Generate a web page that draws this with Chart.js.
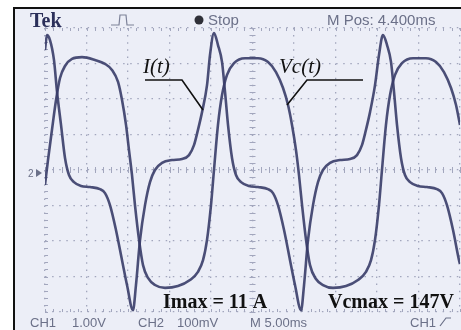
<!DOCTYPE html>
<html>
<head>
<meta charset="utf-8">
<script src="https://cdn.jsdelivr.net/npm/chart.js@4"></script>
<style>
  html, body { margin: 0; padding: 0; background: #fff; }
  canvas { display: block; }
</style>
</head>
<body>
<canvas id="scope" width="461" height="330"></canvas>
<script>
// time in ms (5 ms/div), amplitude in screen divisions (8 div high)
const currentTime = [0.0, 0.24, 0.60, 1.08, 1.45, 1.93, 2.41, 2.89, 3.49, 4.34, 5.42, 6.63, 7.23, 7.83, 8.55, 9.28, 9.88, 10.60,
    10.96, 11.45, 12.05, 12.65, 13.25, 14.10, 15.30, 16.51, 17.35, 17.95, 18.43, 18.92, 19.52, 19.88, 20.36,
    20.84, 21.33, 21.69, 22.05, 22.53, 23.01, 23.62, 24.58, 25.66, 26.87, 27.47, 28.07, 28.80, 29.52, 30.12, 30.85,
    31.21, 31.69, 32.29, 32.89, 33.49, 34.34, 35.54, 36.75, 37.59, 38.19, 38.67, 39.16, 39.76, 40.24, 40.72,
    41.21, 41.69, 42.05, 42.41, 42.89, 43.37, 43.98, 44.94, 46.02, 47.23, 47.83, 48.43, 49.16, 49.88, 50.0]
const currentDiv = [3.38, 3.80, 3.66, 3.10, 2.20, 1.27, 0.34, -0.14, -0.34, -0.45, -0.48, -0.54, -0.65, -0.99, -1.69, -2.54, -3.24, -3.95,
    -3.24, -1.97, -0.99, -0.34, 0.00, 0.20, 0.28, 0.31, 0.42, 0.70, 1.13, 1.63, 2.39, 3.24, 3.86,
    3.52, 3.04, 2.20, 1.27, 0.34, -0.14, -0.34, -0.45, -0.48, -0.54, -0.65, -0.99, -1.69, -2.54, -3.24, -3.95,
    -3.24, -1.97, -0.99, -0.34, 0.00, 0.20, 0.28, 0.31, 0.42, 0.70, 1.13, 1.63, 2.39, 3.24, 3.80,
    3.52, 3.04, 2.20, 1.27, 0.34, -0.14, -0.34, -0.45, -0.48, -0.54, -0.65, -0.99, -1.69, -2.54, -2.65]

const voltageTime = [0.0, 0.36, 0.84, 1.33, 1.81, 2.41, 3.25, 4.46, 6.02, 7.23, 8.07, 8.80, 9.28, 9.76, 10.12, 10.48, 10.84, 11.33, 11.81,
    12.41, 13.25, 14.46, 16.02, 17.47, 18.43, 19.04, 19.52, 20.00, 20.36, 20.84, 21.33, 21.93, 22.77, 24.10, 25.66,
    26.87, 27.83, 28.68, 29.28, 29.76, 30.24, 30.60, 30.97, 31.45, 31.93, 32.65, 33.49, 34.70, 36.27, 37.71, 38.67,
    39.28, 39.76, 40.24, 40.60, 41.08, 41.57, 42.17, 43.01, 44.34, 45.90, 47.11, 48.07, 48.92, 49.52, 50.0]
const voltageDiv = [-0.42, 0.28, 1.13, 1.97, 2.59, 2.93, 3.13, 3.18, 3.10, 2.99, 2.82, 2.48, 1.97, 1.27, 0.56, -0.14, -0.99, -1.97, -2.68,
    -3.04, -3.24, -3.32, -3.27, -3.10, -2.87, -2.54, -1.97, -0.99, 0.00, 1.27, 2.11, 2.68, 3.01, 3.15, 3.15,
    3.04, 2.76, 2.31, 1.83, 1.27, 0.56, -0.14, -0.99, -1.97, -2.68, -3.07, -3.24, -3.32, -3.27, -3.10, -2.87,
    -2.54, -1.97, -0.99, 0.00, 1.27, 2.11, 2.68, 3.01, 3.15, 3.15, 3.04, 2.76, 2.31, 1.83, 1.27]

const headerTexts = ['Tek', 'Stop', 'M Pos: 4.400ms']
const footerTexts = ['CH1', '1.00V', 'CH2', '100mV', 'M 5.00ms', 'CH1']
const traceLabels = ['I(t)', 'Vc(t)']
const maxLabels = ['Imax = 11 A', 'Vcmax = 147V']

const traceColor = 'rgba(56, 60, 104, 0.9)'
const gridColor = '#a2a6bd'
const screenColor = '#eceef7'

const toPoints = (xs, ys) => xs.map((x, i) => ({ x: x, y: ys[i] }))

const scopeDecor = {
    id: 'scopeDecor',
    beforeDraw(chart) {
        const ctx = chart.ctx
        ctx.save()
        ctx.fillStyle = '#ffffff'
        ctx.fillRect(0, 0, chart.width, chart.height)
        ctx.fillStyle = screenColor
        ctx.fillRect(15, 9, chart.width - 15, chart.height - 9)
        ctx.strokeStyle = '#111'
        ctx.lineWidth = 2
        ctx.beginPath()
        ctx.moveTo(14, chart.height)
        ctx.lineTo(14, 8)
        ctx.lineTo(chart.width, 8)
        ctx.stroke()
        ctx.restore()
    },
    beforeDatasetsDraw(chart) {
        const { ctx, chartArea: a, scales: { x, y } } = chart
        const cx = x.getPixelForValue(25)
        const cy = y.getPixelForValue(0)
        ctx.save()
        ctx.strokeStyle = gridColor
        ctx.lineWidth = 1
        ctx.beginPath()
        // minor ticks on the centre cross and on the border
        for (let t = 0; t <= 50; t += 1) {
            const px = Math.round(x.getPixelForValue(t)) + 0.5
            ctx.moveTo(px, cy - 3); ctx.lineTo(px, cy + 3)
            ctx.moveTo(px, a.top); ctx.lineTo(px, a.top + 3)
            ctx.moveTo(px, a.bottom); ctx.lineTo(px, a.bottom - 3)
        }
        for (let v = -4; v <= 4.001; v += 0.2) {
            const py = Math.round(y.getPixelForValue(v)) + 0.5
            ctx.moveTo(cx - 3, py); ctx.lineTo(cx + 3, py)
            ctx.moveTo(a.left, py); ctx.lineTo(a.left + 3, py)
        }
        ctx.stroke()
        ctx.restore()
    },
    afterDatasetsDraw(chart) {
        const ctx = chart.ctx
        ctx.save()
        ctx.textBaseline = 'alphabetic'
        // header
        ctx.fillStyle = '#2b2f5a'
        ctx.font = 'bold 20px "Liberation Serif", serif'
        ctx.fillText(headerTexts[0], 30, 27)
        ctx.strokeStyle = '#7c8198'
        ctx.lineWidth = 1.2
        ctx.beginPath()
        ctx.moveTo(111, 25); ctx.lineTo(119, 25); ctx.lineTo(120, 15); ctx.lineTo(126, 15)
        ctx.lineTo(127, 25); ctx.lineTo(134, 25)
        ctx.stroke()
        ctx.fillStyle = '#2f3038'
        ctx.beginPath()
        ctx.arc(199, 20, 4.5, 0, Math.PI * 2)
        ctx.fill()
        ctx.fillStyle = '#6b7088'
        ctx.font = '15px "Liberation Sans", sans-serif'
        ctx.fillText(headerTexts[1], 208, 25)
        ctx.fillText(headerTexts[2], 327, 25)
        // footer
        ctx.font = '13px "Liberation Sans", sans-serif'
        const fx = [30, 72, 138, 177, 250, 410]
        footerTexts.forEach((s, i) => ctx.fillText(s, fx[i], 327))
        ctx.strokeStyle = '#6b7088'
        ctx.beginPath()
        ctx.moveTo(440, 326); ctx.lineTo(446, 318); ctx.lineTo(451, 318)
        ctx.stroke()
        // channel 2 marker
        ctx.font = '10px "Liberation Sans", sans-serif'
        ctx.fillText('2', 28, 177)
        ctx.beginPath()
        ctx.moveTo(36, 169); ctx.lineTo(42, 173); ctx.lineTo(36, 177)
        ctx.closePath()
        ctx.fill()
        // trace labels and leaders
        ctx.fillStyle = '#111'
        ctx.strokeStyle = '#111'
        ctx.lineWidth = 1.6
        ctx.font = 'italic 21px "Liberation Serif", serif'
        ctx.fillText(traceLabels[0], 143, 73)
        ctx.fillText(traceLabels[1], 279, 73)
        ctx.beginPath()
        ctx.moveTo(145, 80); ctx.lineTo(182, 80); ctx.lineTo(203, 110)
        ctx.moveTo(287, 105); ctx.lineTo(307, 80); ctx.lineTo(363, 80)
        ctx.stroke()
        ctx.font = 'bold 20px "Liberation Serif", serif'
        ctx.fillText(maxLabels[0], 163, 308)
        ctx.fillText(maxLabels[1], 328, 308)
        ctx.restore()
    }
}

new Chart(document.getElementById('scope'), {
    type: 'scatter',
    data: {
        datasets: [{
                label: 'I(t)',
                data: toPoints(currentTime, currentDiv),
                showLine: true,
                borderColor: traceColor,
                borderWidth: 2.6,
                pointRadius: 0,
                cubicInterpolationMode: 'monotone'
            },
            {
                label: 'Vc(t)',
                data: toPoints(voltageTime, voltageDiv),
                showLine: true,
                borderColor: traceColor,
                borderWidth: 2.6,
                pointRadius: 0,
                cubicInterpolationMode: 'monotone'
            }
        ]
    },
    options: {
        responsive: false,
        animation: false,
        layout: { padding: { left: 45, top: 28, right: 1, bottom: 18 } },
        plugins: {
            legend: { display: false },
            tooltip: { enabled: false }
        },
        scales: {
            x: {
                type: 'linear',
                min: 0,
                max: 50,
                ticks: { display: false, stepSize: 5 },
                grid: { color: gridColor, lineWidth: 1.3, drawTicks: false },
                border: { display: false, dash: [1.5, 5.6] }
            },
            y: {
                type: 'linear',
                min: -4,
                max: 4,
                ticks: { display: false, stepSize: 1 },
                grid: { color: gridColor, lineWidth: 1.3, drawTicks: false },
                border: { display: false, dash: [1.5, 5.6] }
            }
        }
    },
    plugins: [scopeDecor]
})
</script>
</body>
</html>
